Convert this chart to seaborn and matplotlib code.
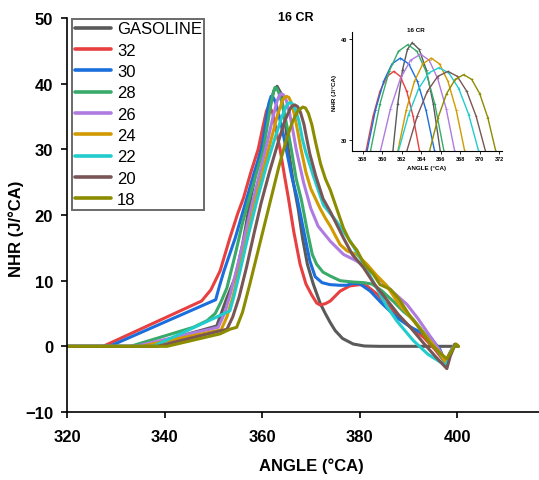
import matplotlib
matplotlib.use("Agg")
import matplotlib.pyplot as plt
from matplotlib.lines import Line2D
import numpy as np
import pandas as pd
import seaborn as sns

# ---------------- data: net heat release vs crank angle ----------------
fuel_labels = ["GASOLINE", "32", "30", "28", "26", "24", "22", "20", "18"]
fuel_colors = ["#5a5a5a", "#e84040", "#1a6fdc", "#3aaa6a", "#b07be0",
               "#d09a00", "#22cccc", "#7a5555", "#8c8c00"]

gasoline_angle = [320, 336, 343, 350.7, 352.8, 354.5, 356, 357.7, 359, 360.5, 361.6, 362.4, 363.08,
                  363.9, 364.6, 365.4, 366.4, 367.4, 368.3, 369.3, 370.5, 371.9, 372.9, 374, 375,
                  376.5, 378.7, 381, 384, 400]
gasoline_nhr = [0, 0, 1.5, 3.1, 7.4, 10.5, 15.5, 22.6, 27.5, 32.5, 36.4, 38.9, 39.6,
                38.5, 35, 30, 25, 21, 16.5, 12.5, 9.5, 6.6, 5.1, 3.6, 2.4,
                1.2, 0.35, 0.05, 0, 0]

cr32_angle = [320, 327.4, 347.6, 349.5, 351.4, 353.4, 355, 356.2, 357.7, 359.2, 360.2, 360.9, 361.4,
              362.2, 363, 363.7, 364.6, 365.4, 366.5, 367.8, 369, 370.2, 371.2, 371.9, 373, 374,
              376, 378, 380.1, 381.5, 383.5, 385.6, 388, 390, 393.1, 395.5, 397.6, 398.5, 399.5, 400.2]
cr32_nhr = [0, 0, 6.9, 8.6, 11.5, 16.5, 20.2, 22.6, 26.5, 30, 33.5, 35.8, 36.7,
            35.5, 32.5, 30, 26, 22.6, 17.5, 12.5, 9.5, 7.8, 6.6, 6.3, 6.5, 6.9,
            8.4, 9.2, 9.4, 9.2, 8.0, 6.4, 4.5, 3.2, 1.4, -0.5, -2.5, -1.0, 0.3, 0]

cr30_angle = [320, 328.7, 350.5, 351.2, 352.2, 354.5, 356.9, 358.4, 359.9, 360.5, 361.0, 361.4, 361.85,
              362.3, 362.8, 363.4, 364.3, 365.1, 366.2, 367.2, 368.3, 369.8, 370.9, 372.3, 373.9,
              375.8, 377.4, 378.5, 380.1, 382.2, 384.5, 387.6, 390.5, 394.5, 396.5, 397.7, 398.6,
              399.6, 400.2]
cr30_nhr = [0, 0, 7.1, 9, 11.5, 16.5, 22.6, 26.5, 30, 32.8, 35.3, 37.0, 38.07,
            37.9, 37.1, 35.4, 32.5, 29.5, 25.5, 22.6, 18.5, 13, 10.6, 9.7, 9.4,
            9.3, 9.3, 9.6, 9.5, 8.4, 6.6, 4.4, 2.9, 1.4, -0.5, -2.6, -1.0,
            0.3, 0]

cr28_angle = [320, 333, 345.9, 348.7, 350.4, 351.6, 352.8, 354.5, 356, 357.4, 358.9, 360.3, 360.8,
              361.3, 361.8, 362.2, 362.63, 363.0, 363.4, 364.0, 364.7, 365.4, 366.0, 367.0, 368.1,
              369.3, 370.3, 371.2, 372.5, 374, 376, 378.5, 380.8, 382.5, 384.5, 387, 389, 391,
              393.5, 396.5, 397.6, 398.6, 399.6, 400.2]
cr28_nhr = [0, 0, 2.9, 3.9, 5, 6.8, 8.9, 14, 18.8, 22.6, 26.5, 30, 32.3,
            34.6, 36.8, 38.3, 39.41, 39.3, 38.7, 37.3, 35, 32.5, 30, 25.5, 22.2,
            17.5, 14, 12.5, 11.3, 10.7, 10.0, 9.8, 9.7, 9.5, 8.5, 6.8, 5.3, 4.1,
            1.8, -1.2, -2.6, -1.0, 0.3, 0]

cr26_angle = [320, 334, 351, 352.3, 353.5, 355, 356.5, 358, 359.5, 361, 362.2, 363.1, 363.5, 363.94,
              364.4, 365.0, 365.6, 366.3, 367.0, 368.5, 370, 371.5, 374, 376.7, 379.4, 381.5, 384,
              386.5, 389.7, 392, 394.5, 396.5, 397.7, 398.6, 399.6, 400.2]
cr26_nhr = [0, 0, 2.9, 5, 8, 12.3, 17, 21.8, 26.3, 30.8, 34.8, 37.4, 38.1, 38.46,
            38.3, 37.4, 35.7, 33, 30, 25, 21, 18.3, 16.0, 14.0, 13.0, 12.0, 10.3,
            8.5, 6.4, 4.2, 1.5, -0.7, -2.6, -1.0, 0.3, 0]

cr24_angle = [320, 335.2, 351.6, 352.8, 354, 355.5, 357.2, 358.8, 360.4, 361.9, 363.2, 364.2, 364.6,
              365.03, 365.5, 366.0, 366.6, 367.3, 368.0, 369, 370, 371.9, 373, 374, 376, 377.5,
              379.4, 381.5, 383.5, 385.5, 388, 391.7, 394, 396.5, 397.7, 398.6, 399.6, 400.2]
cr24_nhr = [0, 0, 2.5, 4.5, 7.5, 12, 17.5, 22.6, 27.3, 31.6, 35.3, 37.4, 37.9,
            38.07, 37.9, 37.1, 35.4, 32.8, 30, 26.5, 24, 21, 19.5, 18.3, 15.5, 14.5,
            14.0, 12.5, 10.8, 9.3, 6.5, 3.4, 1.2, -1.0, -2.5, -1.0, 0.3, 0]

cr22_angle = [320, 337.7, 353.4, 354.2, 355.5, 357.2, 359.1, 360.9, 362.6, 364.0, 365.0, 365.4, 365.82,
              366.3, 366.9, 367.6, 368.3, 369, 370.5, 372.6, 375.3, 378.1, 380.5, 383.5, 385.5,
              387.6, 391, 394, 397.2, 397.8, 398.6, 399.6, 400.2]
cr22_nhr = [0, 0, 5.4, 7.5, 11.5, 17, 22.6, 27.5, 31.6, 34.8, 36.6, 37.0, 37.12,
            36.9, 36.0, 34.2, 31.5, 29.5, 26, 21.5, 19.0, 16.0, 13, 8.9, 6.2,
            3.9, 0.9, -1.2, -2.7, -2.8, -1.0, 0.3, 0]

cr20_angle = [320, 338.5, 352.8, 354, 355.3, 356.8, 358.3, 359.8, 361.5, 363.2, 364.6, 365.7, 366.2,
              366.75, 367.3, 367.9, 368.6, 369.2, 369.8, 371, 372.5, 374, 376.7, 378.5, 380.8,
              383, 386, 388, 390.4, 393, 395.5, 397.9, 398.6, 399.6, 400.2]
cr20_nhr = [0, 0, 2.6, 4.5, 7.5, 12, 17, 21.8, 26.5, 30.8, 34.2, 36.1, 36.6,
            36.76, 36.5, 35.6, 33.8, 31.5, 29.3, 26, 22.5, 20.5, 16.5, 14, 12.0,
            9.5, 6.7, 4.8, 2.9, 0.6, -1.5, -3.4, -1.5, 0.3, 0]

cr18_angle = [320, 340.5, 351.4, 353.4, 354.8, 356, 357.5, 359, 360.5, 362, 363.5, 365, 366.3,
              367.4, 368.36, 368.9, 369.5, 370.2, 371, 372, 373, 374, 375.3, 376.7, 378, 379.4,
              381, 382.8, 384.2, 386.3, 388, 390, 392.5, 394.5, 396.5, 397.9, 398.8, 399.8, 400.3]
cr18_nhr = [0, 0, 1.9, 2.6, 2.9, 5.2, 9.5, 14, 18.5, 23, 27.5, 31.5, 34.3,
            35.9, 36.44, 36.3, 35.5, 33.8, 31, 27.8, 25.5, 23.8, 21, 18, 16, 14.7,
            12.5, 11, 9.4, 8.7, 7.3, 5, 2.5, 0.4, -1.0, -1.9, -0.8, 0.35, 0]

# ---------------- peak detail (inset) ----------------
ins_gasoline_angle = [361.10, 361.60, 362.09, 362.59, 363.08, 363.80, 364.52, 365.24, 365.96]
ins_gasoline_nhr = [28.9, 33.58, 36.93, 38.93, 39.60, 38.93, 36.93, 33.58, 28.9]
ins_cr32_angle = [358.34, 359.06, 359.77, 360.49, 361.20, 361.86, 362.52, 363.17, 363.83]
ins_cr32_nhr = [28.9, 32.34, 34.80, 36.27, 36.76, 36.27, 34.80, 32.34, 28.9]
ins_cr30_angle = [358.45, 359.30, 360.15, 361.00, 361.85, 362.73, 363.62, 364.50, 365.38]
ins_cr30_nhr = [28.9, 32.91, 35.78, 37.50, 38.07, 37.50, 35.78, 32.91, 28.9]
ins_cr28_angle = [358.80, 359.76, 360.72, 361.67, 362.63, 363.56, 364.49, 365.41, 366.34]
ins_cr28_nhr = [28.9, 33.50, 36.78, 38.75, 39.41, 38.75, 36.78, 33.50, 28.9]
ins_cr26_angle = [359.82, 360.85, 361.88, 362.91, 363.94, 364.82, 365.69, 366.57, 367.44]
ins_cr26_nhr = [28.9, 33.08, 36.07, 37.86, 38.46, 37.86, 36.07, 33.08, 28.9]
ins_cr24_angle = [361.60, 362.46, 363.31, 364.17, 365.03, 365.89, 366.75, 367.61, 368.47]
ins_cr24_nhr = [28.9, 32.91, 35.78, 37.50, 38.07, 37.50, 35.78, 32.91, 28.9]
ins_cr22_angle = [361.67, 362.71, 363.75, 364.78, 365.82, 366.84, 367.86, 368.88, 369.90]
ins_cr22_nhr = [28.9, 32.50, 35.07, 36.61, 37.12, 36.61, 35.07, 32.50, 28.9]
ins_cr20_angle = [362.53, 363.59, 364.64, 365.70, 366.75, 367.71, 368.68, 369.64, 370.60]
ins_cr20_nhr = [28.9, 32.34, 34.80, 36.27, 36.76, 36.27, 34.80, 32.34, 28.9]
ins_cr18_angle = [364.86, 365.74, 366.61, 367.49, 368.36, 369.19, 370.01, 370.84, 371.66]
ins_cr18_nhr = [28.9, 32.20, 34.56, 35.97, 36.44, 35.97, 34.56, 32.20, 28.9]

main_series = [
    (gasoline_angle, gasoline_nhr), (cr32_angle, cr32_nhr), (cr30_angle, cr30_nhr),
    (cr28_angle, cr28_nhr), (cr26_angle, cr26_nhr), (cr24_angle, cr24_nhr),
    (cr22_angle, cr22_nhr), (cr20_angle, cr20_nhr), (cr18_angle, cr18_nhr),
]
inset_series = [
    (ins_gasoline_angle, ins_gasoline_nhr), (ins_cr32_angle, ins_cr32_nhr),
    (ins_cr30_angle, ins_cr30_nhr), (ins_cr28_angle, ins_cr28_nhr),
    (ins_cr26_angle, ins_cr26_nhr), (ins_cr24_angle, ins_cr24_nhr),
    (ins_cr22_angle, ins_cr22_nhr), (ins_cr20_angle, ins_cr20_nhr),
    (ins_cr18_angle, ins_cr18_nhr),
]


def long_frame(series):
    parts = []
    for label, (a, n) in zip(fuel_labels, series):
        parts.append(pd.DataFrame({"angle": a, "nhr": n, "fuel": label}))
    return pd.concat(parts, ignore_index=True)


df_main = long_frame(main_series)
df_inset = long_frame(inset_series)
palette = dict(zip(fuel_labels, fuel_colors))

# ---------------- styling ----------------
sns.set_style("ticks")
plt.rcParams["font.family"] = ["Liberation Sans", "DejaVu Sans"]
plt.rcParams["font.weight"] = "bold"
plt.rcParams["axes.labelweight"] = "bold"
for key in ["text.color", "axes.labelcolor", "xtick.color", "ytick.color", "axes.edgecolor"]:
    plt.rcParams[key] = "black"

fig = plt.figure(figsize=(5.39, 4.81), dpi=100)
ax = fig.add_axes([67 / 539, 68 / 481, 472 / 539, 394 / 481])

sns.lineplot(data=df_main, x="angle", y="nhr", hue="fuel", hue_order=fuel_labels,
             palette=palette, sort=False, estimator=None, linewidth=2.2,
             legend=False, ax=ax)
for ln in ax.lines:
    ln.set_solid_joinstyle("round")
    ln.set_solid_capstyle("round")

ax.set_xlim(320, 416.8)
ax.set_ylim(-10, 50)
ax.set_xticks([320, 340, 360, 380, 400])
ax.set_yticks([-10, 0, 10, 20, 30, 40, 50])
for s in ["top", "right"]:
    ax.spines[s].set_visible(False)
for s in ["left", "bottom"]:
    ax.spines[s].set_linewidth(1.2)
ax.tick_params(axis="both", direction="out", length=4, width=1.2, labelsize=12)
ax.tick_params(axis="x", pad=8)
ax.tick_params(axis="y", pad=6)
for lab in ax.get_xticklabels() + ax.get_yticklabels():
    lab.set_fontweight("bold")

ax.set_xlabel("ANGLE (°CA)", fontsize=12, fontweight="bold")
ax.set_ylabel("NHR (J/°CA)", fontsize=12, fontweight="bold")
ax.xaxis.set_label_coords(0.517, -0.115)
ax.yaxis.set_label_coords(-0.092, 0.467)

fig.text(296 / 539, 1 - 18 / 481, "16 CR", ha="center", va="center",
         fontsize=9, fontweight="bold")

handles = [Line2D([0], [0], color=c, lw=2.6) for c in fuel_colors]
leg = ax.legend(handles, fuel_labels, loc="upper left",
                bbox_to_anchor=(72 / 539, 1 - 20 / 481), bbox_transform=fig.transFigure,
                borderaxespad=0, handlelength=2.2, handletextpad=0.35,
                labelspacing=0.38, borderpad=0.15, fancybox=False, framealpha=1,
                prop={"weight": "normal", "size": 12})
leg.get_frame().set_edgecolor("#6a6a6a")
leg.get_frame().set_linewidth(1.4)

# ---------------- inset: peak region ----------------
axi = fig.add_axes([352 / 539, 329 / 481, 150 / 539, 119 / 481])
sns.lineplot(data=df_inset, x="angle", y="nhr", hue="fuel", hue_order=fuel_labels,
             palette=palette, sort=False, estimator=None, linewidth=1.0,
             legend=False, ax=axi)
sns.scatterplot(data=df_inset, x="angle", y="nhr", hue="fuel", hue_order=fuel_labels,
                palette=palette, marker="+", s=4, linewidth=0.5, legend=False, ax=axi)
axi.set_xlim(356.9, 372.3)
axi.set_ylim(28.9, 40.65)
axi.set_xticks(np.arange(358, 373, 2))
axi.set_yticks([30, 40])
for s in ["top", "right"]:
    axi.spines[s].set_visible(False)
for s in ["left", "bottom"]:
    axi.spines[s].set_linewidth(0.8)
axi.tick_params(axis="both", direction="out", length=2, width=0.6, labelsize=4, pad=1.5)
for lab in axi.get_xticklabels() + axi.get_yticklabels():
    lab.set_fontweight("bold")
axi.set_xlabel("ANGLE (°CA)", fontsize=4.5, fontweight="bold", labelpad=3)
axi.set_ylabel("NHR (J/°CA)", fontsize=4.5, fontweight="bold", labelpad=3)
axi.set_title("16 CR", fontsize=4.5, fontweight="bold", pad=-2, x=0.427)

fig.savefig("out.png", dpi=100)
